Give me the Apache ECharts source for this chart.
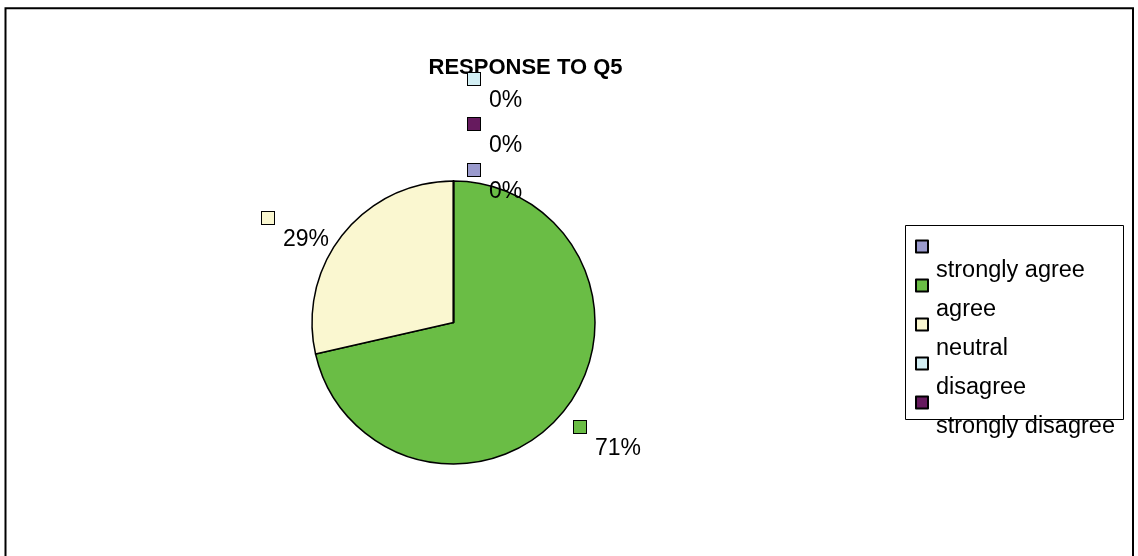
<!DOCTYPE html>
<html>
<head>
<meta charset="utf-8">
<script src="https://cdn.jsdelivr.net/npm/echarts@6/dist/echarts.min.js"></script>
<style>
  html, body { margin: 0; padding: 0; background: #fff; }
  #chart { width: 1138px; height: 556px; }
</style>
</head>
<body>
<div id="chart"></div>
<script>
// Survey answers to question 5 (response counts per option)
const categories = ['strongly agree', 'agree', 'neutral', 'disagree', 'strongly disagree'];
const responses = [0, 5, 2, 0, 0];
const chartTitle = 'RESPONSE TO Q5';

// Slice fill colours, in category order
const sliceColors = ['#9A9ACD', '#6ABD45', '#FAF7D0', '#D2EEF3', '#661A5E'];

const FONT = '"Liberation Sans", Arial, Helvetica, sans-serif';
const CENTER = [453.5, 322.5];
const RADIUS = 141.5;
// Where each percentage label (swatch + value) sits, relative to the pie centre
const LABEL_OFFSETS = [[14.5, -158.5], [120.5, 98.5], [-191.5, -110.5], [14.5, -249.5], [14.5, -204.5]];

const rich = { v: { fontSize: 23, fontFamily: FONT, color: '#000', lineHeight: 32, padding: [0, 0, 0, 21] } };
sliceColors.forEach((c, i) => {
  rich['sq' + i] = { width: 12, height: 12, lineHeight: 12, backgroundColor: c, borderColor: '#000', borderWidth: 1 };
});

const chart = echarts.init(document.getElementById('chart'), null, { renderer: 'canvas' });
chart.setOption({
  animation: false,
  backgroundColor: '#fff',
  title: {
    text: chartTitle,
    left: 520.5,
    textAlign: 'center',
    top: 52,
    z: 1,
    textStyle: { fontFamily: FONT, fontSize: 22, fontWeight: 'bold', color: '#000' }
  },
  legend: {
    orient: 'vertical',
    left: 915,
    top: 228,
    padding: 0,
    itemGap: -15.5,
    itemWidth: 12,
    itemHeight: 12,
    icon: 'rect',
    selectedMode: false,
    data: categories,
    formatter: name => '{gap| }\n{t|' + name + '}',
    textStyle: {
      rich: {
        gap: { lineHeight: 45, fontSize: 10 },
        t: { fontSize: 23.5, fontFamily: FONT, color: '#000', lineHeight: 27, padding: [3, 0, 0, 3] }
      }
    }
  },
  graphic: [
    { type: 'rect', z: 0, silent: true, shape: { x: 5.5, y: 8.3, width: 1127.5, height: 600 },
      style: { fill: null, stroke: '#000', lineWidth: 2 } },
    { type: 'rect', z: 0, silent: true, shape: { x: 905.5, y: 225.5, width: 218, height: 194 },
      style: { fill: null, stroke: '#000', lineWidth: 1 } }
  ],
  series: [{
    type: 'pie',
    center: CENTER,
    radius: RADIUS,
    startAngle: 90,
    clockwise: true,
    avoidLabelOverlap: false,
    percentPrecision: 0,
    silent: true,
    emphasis: { disabled: true },
    itemStyle: { borderColor: '#000', borderWidth: 1.5 },
    labelLine: { show: false },
    label: {
      show: true,
      position: 'outside',
      formatter: p => '{sq' + p.dataIndex + '|}\n{v|' + p.percent + '%}',
      rich: rich
    },
    labelLayout: p => {
      const o = LABEL_OFFSETS[p.dataIndex];
      return { x: CENTER[0] + o[0], y: CENTER[1] + o[1], align: 'left', verticalAlign: 'top' };
    },
    data: categories.map((name, i) => ({
      name: name,
      value: responses[i],
      itemStyle: { color: sliceColors[i] }
    }))
  }]
});
</script>
</body>
</html>
